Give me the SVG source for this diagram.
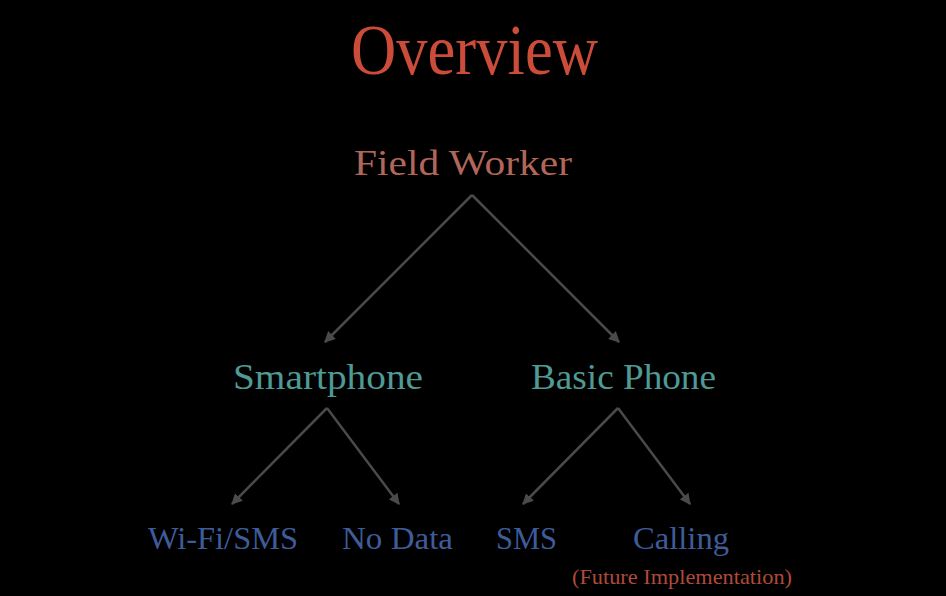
<svg xmlns="http://www.w3.org/2000/svg" width="946" height="596" viewBox="0 0 946 596">
<defs>
<marker id="ah" viewBox="0 0 10 10" refX="9" refY="5" markerWidth="11" markerHeight="11" markerUnits="userSpaceOnUse" orient="auto">
<path d="M0,0 L10,5 L0,10 z" fill="#4a4a4a"/>
</marker>
<style>
text{font-family:"Liberation Serif","DejaVu Serif",serif;text-anchor:start}
.l1{font-size:35px;fill:#b0675a}
.l2{font-size:35px;fill:#4f9a94}
.l3{font-size:31px;fill:#3f5c9a}
.c{stroke:#4a4a4a;stroke-width:2.5;fill:none;marker-end:url(#ah)}
</style>
</defs>
<rect width="946" height="596" fill="#000"/>
<g id="title"><text x="351" y="74" style="font-size:71px;fill:#cc4c3a" textLength="247" lengthAdjust="spacingAndGlyphs">Overview</text></g>
<g id="field-worker"><text class="l1" x="354" y="175" textLength="218" lengthAdjust="spacingAndGlyphs">Field Worker</text></g>
<g id="smartphone"><text class="l2" x="233" y="389" textLength="190" lengthAdjust="spacingAndGlyphs">Smartphone</text></g>
<g id="basic-phone"><text class="l2" x="531" y="389" textLength="185" lengthAdjust="spacingAndGlyphs">Basic Phone</text></g>
<g id="wifi-sms"><text class="l3" x="148" y="549" textLength="150" lengthAdjust="spacingAndGlyphs">Wi-Fi/SMS</text></g>
<g id="no-data"><text class="l3" x="342" y="549" textLength="111" lengthAdjust="spacingAndGlyphs">No Data</text></g>
<g id="sms"><text class="l3" x="496" y="549" textLength="61" lengthAdjust="spacingAndGlyphs">SMS</text></g>
<g id="calling"><text class="l3" x="633" y="549" textLength="96" lengthAdjust="spacingAndGlyphs">Calling</text>
<text x="572" y="584" style="font-size:21px;fill:#b04a3a" textLength="220" lengthAdjust="spacingAndGlyphs">(Future Implementation)</text></g>
<g id="connectors">
<path class="c" d="M472,195 L325,342"/>
<path class="c" d="M472,195 L619,342"/>
<path class="c" d="M327,408 L232,504"/>
<path class="c" d="M327,408 L399,504"/>
<path class="c" d="M618,408 L523,504"/>
<path class="c" d="M618,408 L690,504"/>
</g>
</svg>
